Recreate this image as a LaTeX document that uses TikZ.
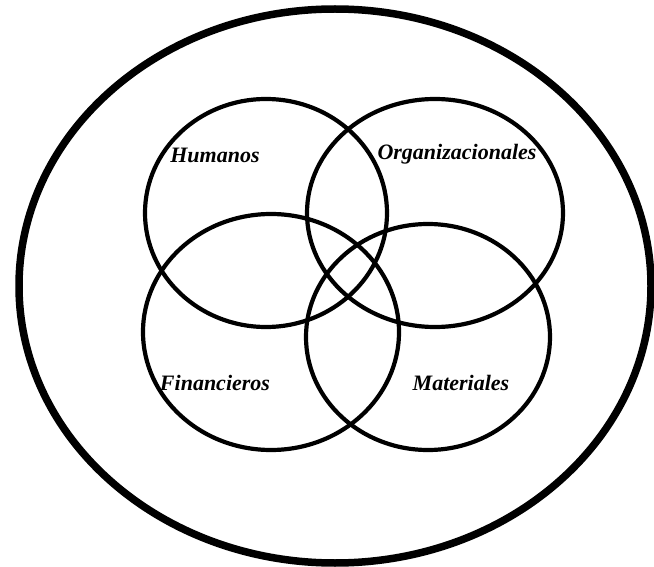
\documentclass[tikz,border=0pt]{standalone}
\usepackage{fontspec}
\setmainfont{Liberation Serif}
\tikzset{
  ring/.style={line width=4.2pt},
  recurso/.style={font=\fontsize{22}{24}\selectfont\bfseries\itshape,inner sep=0pt}
}
\begin{document}
\begin{tikzpicture}[x=1pt,y=-1pt]
\useasboundingbox (0,0) rectangle (654,567);
% outer boundary (the organisation)
\draw[line width=7.5pt] (335,286) ellipse (316 and 277);
% four resource circles
\draw[ring] (266,213) ellipse (121 and 114);
\draw[ring] (435,213) ellipse (128 and 114);
\draw[ring] (271,332) ellipse (128 and 118);
\draw[ring] (428,337) ellipse (122 and 113);
% labels
\node[recurso] (hum) at (215,155) {Humanos};
\node[recurso] (org) at (457,154) {Organizacionales};
\node[recurso] (fin) at (215,383) {Financieros};
\node[recurso] (mat) at (461,383) {Materiales};
\end{tikzpicture}
\end{document}
